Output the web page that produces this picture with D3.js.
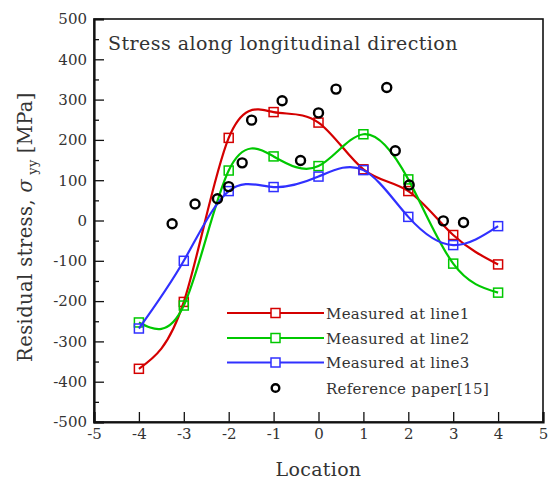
<!DOCTYPE html>
<html>
<head>
<meta charset="utf-8">
<script src="https://cdn.jsdelivr.net/npm/d3@7"></script>
<style>
  html, body { margin: 0; padding: 0; background: #fff; }
  svg text { font-family: "DejaVu Serif", "Liberation Serif", serif; fill: #333; }
</style>
</head>
<body>
<svg id="chart" width="553" height="485"></svg>
<script>
// Measurement locations along the plate
const locations = [-4, -3, -2, -1, 0, 1, 2, 3, 4];

// Residual stress (MPa) measured at three lines
const line1 = [-368, -202, 205, 269, 243, 127, 73, -36, -109];
const line2 = [-253, -211, 124, 159, 135, 214, 102, -107, -179];
const line3 = [-268, -100, 73, 83, 109, 125, 9, -61, -14];

// Values reported in reference paper [15]
const refX = [-3.26, -2.75, -2.25, -2.0, -1.70, -1.49, -0.81, -0.40, 0.0, 0.39, 1.52, 1.71, 2.02, 2.78, 3.23];
const refY = [-8, 41, 54, 84, 143, 249, 297, 149, 267, 326, 330, 173, 88, -1, -5];

const seriesNames = ["Measured at line1", "Measured at line2", "Measured at line3"];
const seriesColors = ["#d40000", "#00c800", "#3030ff"];
const refName = "Reference paper[15]";

const xTicks = [-5, -4, -3, -2, -1, 0, 1, 2, 3, 4, 5];
const yTicks = [-500, -400, -300, -200, -100, 0, 100, 200, 300, 400, 500];
const yMinorTicks = [-450, -350, -250, -150, -50, 50, 150, 250, 350, 450];

const svg = d3.select("#chart");
const m = { left: 94, right: 543, top: 19, bottom: 422 };

const x = d3.scaleLinear().domain([-5, 5]).range([m.left, m.right]);
const y = d3.scaleLinear().domain([-500, 500]).range([m.bottom, m.top]);

// Frame
svg.append("rect")
  .attr("x", m.left).attr("y", m.top)
  .attr("width", m.right - m.left).attr("height", m.bottom - m.top)
  .attr("fill", "none").attr("stroke", "#111").attr("stroke-width", 1.6);

// Bottom axis (ticks point inward)
const xAxis = svg.append("g")
  .attr("transform", `translate(0,${m.bottom})`)
  .call(d3.axisBottom(x).tickValues(xTicks).tickSize(-10).tickPadding(8));
xAxis.select(".domain").attr("stroke", "#111").attr("stroke-width", 2.2);
xAxis.selectAll(".tick line").attr("stroke", "#111").attr("stroke-width", 1.3);
xAxis.selectAll(".tick text").attr("font-size", 15).attr("fill", "#333").attr("dy", "0.6em")
  .attr("font-family", "DejaVu Serif").text(d => String(d));

// Left axis with major and minor ticks
const yAxis = svg.append("g")
  .attr("transform", `translate(${m.left},0)`)
  .call(d3.axisLeft(y).tickValues(yTicks).tickSize(-10).tickPadding(7));
yAxis.select(".domain").attr("stroke", "#111").attr("stroke-width", 2.2);
yAxis.selectAll(".tick line").attr("stroke", "#111").attr("stroke-width", 1.3);
yAxis.selectAll(".tick text").attr("font-size", 15).attr("fill", "#333")
  .attr("font-family", "DejaVu Serif").text(d => String(d));

svg.append("g")
  .attr("transform", `translate(${m.left},0)`)
  .call(d3.axisLeft(y).tickValues(yMinorTicks).tickSize(-5).tickFormat(""))
  .call(g => g.select(".domain").remove())
  .selectAll(".tick line").attr("stroke", "#111").attr("stroke-width", 1.3);

// Title inside the plot
svg.append("text")
  .attr("x", 108).attr("y", 50)
  .attr("font-size", 19)
  .attr("letter-spacing", 0.45)
  .text("Stress along longitudinal direction");

// Axis titles
svg.append("text")
  .attr("x", (m.left + m.right) / 2).attr("y", 476)
  .attr("text-anchor", "middle")
  .attr("font-size", 19)
  .attr("letter-spacing", 0.3)
  .text("Location");

const yl = svg.append("text")
  .attr("transform", `translate(32,${227}) rotate(-90)`)
  .attr("text-anchor", "middle")
  .attr("font-size", 19.5)
  .attr("letter-spacing", 0.4);
yl.append("tspan").text("Residual stress, ");
yl.append("tspan").attr("font-style", "italic").text("σ");
yl.append("tspan").attr("font-size", 13).attr("dy", 5).attr("dx", 4).text("yy");
yl.append("tspan").attr("dy", -5).attr("dx", 6).text("[MPa]");

// Smoothed series curves with square markers
const measured = [line1, line2, line3];
const line = d3.line().x(d => x(d[0])).y(d => y(d[1])).curve(d3.curveNatural);
const sq = 9;

measured.forEach((vals, i) => {
  const pts = locations.map((l, k) => [l, vals[k]]);
  svg.append("path")
    .datum(pts)
    .attr("d", line)
    .attr("fill", "none")
    .attr("stroke", seriesColors[i])
    .attr("stroke-width", 2.2);
  svg.append("g").selectAll("rect")
    .data(pts).join("rect")
    .attr("x", d => x(d[0]) - sq / 2).attr("y", d => y(d[1]) - sq / 2)
    .attr("width", sq).attr("height", sq)
    .attr("fill", "none")
    .attr("stroke", seriesColors[i])
    .attr("stroke-width", 1.5);
});

// Reference points
svg.append("g").selectAll("circle")
  .data(refX.map((v, k) => [v, refY[k]])).join("circle")
  .attr("cx", d => x(d[0])).attr("cy", d => y(d[1]))
  .attr("r", 4.5)
  .attr("fill", "none")
  .attr("stroke", "#000")
  .attr("stroke-width", 2.4);

// Legend
const legendRowY = [313, 338, 362.5, 388];
const lg = svg.append("g");
seriesNames.forEach((name, i) => {
  const ry = legendRowY[i];
  lg.append("line").attr("x1", 227).attr("x2", 324).attr("y1", ry).attr("y2", ry)
    .attr("stroke", seriesColors[i]).attr("stroke-width", 2.2);
  lg.append("rect").attr("x", 275.5 - sq / 2).attr("y", ry - sq / 2)
    .attr("width", sq).attr("height", sq)
    .attr("fill", "#fff").attr("stroke", seriesColors[i]).attr("stroke-width", 1.5);
  lg.append("text").attr("x", 326).attr("y", ry + 5.5).attr("font-size", 15)
    .attr("letter-spacing", 0.3).text(name);
});
lg.append("circle").attr("cx", 275.5).attr("cy", legendRowY[3]).attr("r", 3.8)
  .attr("fill", "none").attr("stroke", "#000").attr("stroke-width", 2.4);
lg.append("text").attr("x", 326).attr("y", legendRowY[3] + 5.5).attr("font-size", 15)
  .attr("letter-spacing", 0.3).text(refName);
</script>
</body>
</html>
